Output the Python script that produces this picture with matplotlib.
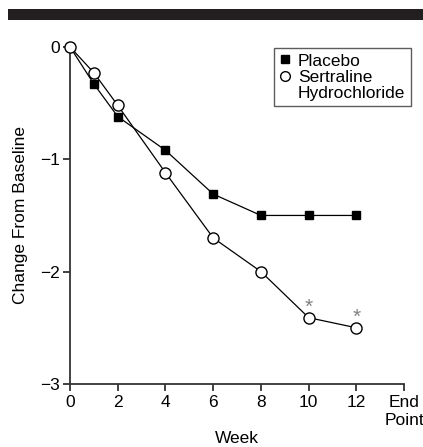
import matplotlib
matplotlib.use("Agg")
import matplotlib.pyplot as plt
from matplotlib.patches import Rectangle
from matplotlib.lines import Line2D

plt.rcParams['font.family'] = ['Liberation Sans', 'DejaVu Sans']

# data
weeks = [0, 1, 2, 4, 6, 8, 10, 12]
placebo = [0, -0.33, -0.62, -0.92, -1.31, -1.50, -1.50, -1.50]
sertraline = [0, -0.23, -0.52, -1.12, -1.70, -2.00, -2.41, -2.50]
signif_weeks = [10, 12]
xticks = [0, 2, 4, 6, 8, 10, 12, 14]
xticklabels = ['0', '2', '4', '6', '8', '10', '12', 'End\nPoint']
yticks = [-3, -2, -1, 0]
yticklabels = ['\u22123', '\u22122', '\u22121', '0']

fig = plt.figure(figsize=(4.23, 4.47), dpi=100)
ax = fig.add_axes([0.1655, 0.141, 0.79, 0.754])

# black header bar
fig.add_artist(Rectangle((0.019, 0.955), 0.981, 0.025, transform=fig.transFigure,
                         facecolor='#231f20', edgecolor='none'))

ax.plot(weeks, placebo, color='black', lw=0.9, marker='s', ms=6,
        mfc='black', mec='black', clip_on=False, zorder=3)
ax.plot(weeks, sertraline, color='black', lw=0.9, marker='o', ms=8,
        mfc='white', mec='black', mew=1.0, clip_on=False, zorder=4)

for w in signif_weeks:
    v = sertraline[weeks.index(w)]
    ax.text(w, v + 0.04, '*', ha='center', va='baseline', color='#808080', fontsize=15)

ax.set_xlim(0, 14)
ax.set_ylim(-3, 0)
ax.set_xticks(xticks)
ax.set_xticklabels(xticklabels, fontsize=12.5)
ax.set_yticks(yticks)
ax.set_yticklabels(yticklabels, fontsize=12.5)
for lab in ax.get_xticklabels():
    lab.set_linespacing(1.25)

ax.spines['top'].set_visible(False)
ax.spines['right'].set_visible(False)
for s in ('left', 'bottom'):
    ax.spines[s].set_color('#333333')
    ax.spines[s].set_linewidth(1.3)
ax.tick_params(direction='out', length=5, width=1.3, color='#333333')
ax.tick_params(axis='x', pad=3)
ax.tick_params(axis='y', pad=2)

ax.set_xlabel('Week', fontsize=12.5, labelpad=2)
ax.set_ylabel('Change From Baseline', fontsize=12.5, labelpad=9)

handles = [Line2D([], [], ls='none', marker='s', ms=6, mfc='black', mec='black'),
           Line2D([], [], ls='none', marker='o', ms=7, mfc='white', mec='black'),
           Line2D([], [], ls='none')]
labels = ['Placebo', 'Sertraline', 'Hydrochloride']
leg = ax.legend(handles, labels, loc='upper right', bbox_to_anchor=(1.045, 1.022),
                fontsize=12.5, frameon=True, fancybox=False, handlelength=0.7,
                handletextpad=0.4, borderpad=0.3, labelspacing=0.05)
leg.get_frame().set_edgecolor('#333333')
leg.get_frame().set_linewidth(1.0)

fig.savefig('out.png', dpi=100)
